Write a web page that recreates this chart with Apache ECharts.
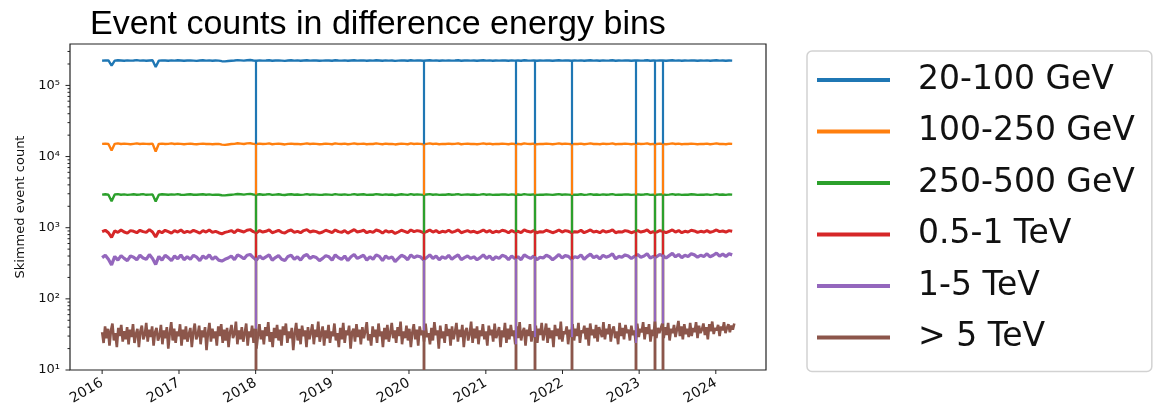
<!DOCTYPE html>
<html>
<head>
<meta charset="utf-8">
<script src="https://cdn.jsdelivr.net/npm/echarts@6/dist/echarts.min.js"></script>
<style>
html,body{margin:0;padding:0;background:#fff;}
#chart{width:1157px;height:408px;}
</style>
</head>
<body>
<div id="chart"></div>
<script>
// ---------------- DATA ----------------
const titleText = 'Event counts in difference energy bins';
const yAxisName = 'Skimmed event count';
const seriesNames = ['20-100 GeV', '100-250 GeV', '250-500 GeV', '0.5-1 TeV', '1-5 TeV', '> 5 TeV'];
const seriesColors = ['#1f77b4', '#ff7f0e', '#2ca02c', '#d62728', '#9467bd', '#8c564b'];

// sampling: first sample date and cadence (days) of the coarse and fine series
const startDate = '2016-01-01';
const coarseStepDays = 15;
const fineStepDays = 7;

// days with (almost) no skimmed events -> drawn as drops to the bottom of the axis
const outageDates = ['2017-12-31', '2020-03-12', '2021-05-22', '2021-08-21', '2022-02-13', '2022-12-16', '2023-03-18', '2023-04-22'];

const xTickYears = [2016, 2017, 2018, 2019, 2020, 2021, 2022, 2023, 2024];
const xMinDate = '2015-08-01';
const xMaxDate = '2024-08-27';
const yMin = 10;
const yMax = 382000;
const yMajorExponents = [1, 2, 3, 4, 5];
const yMinorMantissas = [2, 3, 4, 5, 6, 7, 8, 9];

const counts20to100GeV = [
222000,225000,224000,190000,223000,226000,224000,222000,225000,223000,
224000,227000,223000,225000,222000,224000,226000,181000,223000,225000,
224000,222000,225000,223000,226000,224000,222000,224000,225000,223000,
221000,224000,226000,223000,225000,222000,224000,223000,219000,218000,
220000,222000,224000,227000,225000,223000,226000,228000,224000,222000,
225000,223000,224000,226000,222000,224000,225000,223000,221000,224000,
226000,223000,225000,222000,224000,226000,223000,225000,224000,222000,
223000,225000,224000,222000,226000,224000,223000,225000,222000,224000,
226000,223000,224000,225000,222000,224000,223000,226000,224000,222000,
225000,223000,224000,221000,223000,225000,224000,222000,226000,223000,
225000,224000,222000,224000,226000,223000,225000,222000,224000,223000,
225000,223000,224000,226000,222000,224000,225000,223000,224000,222000,
224000,226000,223000,225000,222000,224000,223000,225000,224000,222000,
225000,223000,224000,222000,226000,224000,223000,225000,222000,224000,
223000,225000,224000,222000,224000,226000,223000,225000,224000,222000,
224000,223000,225000,222000,224000,226000,223000,224000,222000,225000,
223000,224000,226000,222000,224000,223000,225000,224000,222000,224000,
225000,223000,224000,226000,222000,224000,223000,225000,224000,222000,
224000,226000,223000,225000,222000,224000,223000,225000,224000,222000,
224000,223000,225000,222000,224000,226000,223000,224000,222000,224000,223000
];

const counts100to250GeV = [
15100,15200,15000,12200,15100,15300,15000,15200,15100,14900,
15100,15300,15000,15200,15100,15000,15200,11800,15100,15200,
15000,15100,15300,15000,15200,15100,14900,15100,15200,15000,
14900,15100,15200,15000,15100,14900,15000,15100,14700,14600,
14800,15000,15100,15400,15200,15000,15300,15400,15100,15000,
15200,15000,15100,15300,14900,15100,15200,15000,14800,15100,
15200,15000,15100,14900,15100,15300,15000,15200,15100,14900,
15000,15200,15100,14900,15300,15100,15000,15200,14900,15100,
15300,15000,15100,15200,14900,15100,15000,15300,15100,14900,
15200,15000,15100,14800,15000,15200,15100,14900,15300,15000,
15200,15100,14900,15100,15300,15000,15200,14900,15100,15000,
15200,15000,15100,15300,14900,15100,15200,15000,15100,14900,
15100,15300,15000,15200,14900,15100,15000,15200,15100,14900,
15200,15000,15100,14900,15300,15100,15000,15200,14900,15100,
15000,15200,15100,14900,15100,15300,15000,15200,15100,14900,
15100,15000,15200,14900,15100,15300,15000,15100,14900,15200,
15000,15100,15300,14900,15100,15000,15200,15100,14900,15100,
15200,15000,15100,15300,14900,15100,15000,15200,15100,14900,
15100,15300,15000,15200,14900,15100,15000,15200,15100,14900,
15100,15000,15200,14900,15100,15300,15000,15100,14900,15200,15100
];

const counts250to500GeV = [
2920,2950,2900,2350,2930,2960,2910,2940,2890,2920,
2950,2910,2930,2960,2900,2920,2940,2330,2910,2950,
2930,2900,2940,2920,2960,2910,2890,2930,2950,2910,
2900,2930,2950,2910,2940,2890,2920,2900,2860,2850,
2880,2910,2940,2980,2950,2920,2960,2990,2930,2910,
2950,2910,2930,2960,2890,2920,2950,2910,2880,2930,
2950,2900,2930,2890,2920,2960,2910,2940,2920,2890,
2910,2940,2920,2890,2960,2920,2900,2940,2890,2920,
2960,2910,2930,2950,2890,2920,2910,2960,2930,2890,
2940,2910,2930,2870,2910,2950,2920,2890,2960,2910,
2940,2920,2890,2930,2960,2910,2940,2890,2920,2910,
2950,2910,2930,2960,2890,2920,2940,2910,2930,2890,
2920,2960,2910,2940,2890,2920,2910,2940,2930,2890,
2940,2910,2930,2890,2960,2920,2910,2940,2890,2920,
2910,2940,2920,2890,2930,2960,2910,2940,2920,2890,
2920,2910,2950,2890,2920,2960,2910,2930,2890,2940,
2910,2930,2960,2890,2920,2910,2940,2930,2890,2920,
2940,2910,2930,2960,2890,2920,2910,2940,2930,2890,
2920,2960,2910,2940,2890,2920,2910,2950,2930,2890,
2920,2910,2940,2890,2920,2960,2910,2930,2890,2940,2920
];

const counts05to1TeV = [
880,920,850,730,900,860,930,870,840,910,
890,850,920,880,860,940,870,740,900,850,
920,880,840,910,870,930,850,890,860,920,
880,840,910,870,930,860,890,850,820,860,
880,910,850,930,900,870,920,940,880,850,
910,870,890,930,850,880,920,860,840,900,
930,860,890,850,910,940,870,900,880,840,
870,920,890,850,930,880,860,910,840,890,
940,870,890,920,850,890,860,930,900,840,
910,870,890,830,870,920,890,850,930,880,
910,890,850,880,930,870,910,850,890,870,
920,860,890,930,850,880,910,870,890,850,
880,930,870,910,850,890,870,920,900,850,
910,870,890,850,930,890,870,910,850,880,
870,920,890,850,880,930,870,910,890,850,
880,870,920,850,890,930,870,890,850,910,
870,890,930,850,880,870,910,890,850,880,
910,870,890,930,850,880,870,910,890,850,
890,930,870,910,850,890,870,920,900,860,
890,870,910,860,890,930,880,900,870,910,890
];

const counts1to5TeV = [
380,410,360,300,395,350,405,370,345,400,
385,355,410,375,360,420,370,305,395,350,
410,380,345,400,365,415,355,390,360,410,
385,345,400,370,415,360,390,350,340,360,
375,400,355,415,395,365,410,420,380,350,
400,365,390,415,350,380,405,360,345,395,
410,360,390,350,400,420,370,395,380,345,
370,405,390,350,415,380,360,400,345,390,
420,370,390,410,350,390,360,415,395,345,
400,370,390,335,370,410,390,355,415,380,
400,390,355,380,415,370,400,355,390,370,
410,360,390,415,355,380,400,370,390,355,
380,415,370,400,355,390,370,410,395,355,
400,370,390,355,415,390,370,400,355,385,
375,410,390,355,385,420,375,405,395,360,
390,380,415,360,395,425,380,400,365,410,
385,400,430,365,395,385,415,400,370,395,
420,385,400,430,375,395,390,420,405,375,
405,435,390,420,380,410,395,430,415,385,
410,395,430,390,410,440,400,425,395,430,415
];

const countsAbove5TeV = [
34,24,41,28,38,22,36,45,26,33,21,39,30,43,25,35,27,40,23,37,
29,44,24,32,38,21,35,42,27,31,46,25,37,29,41,22,34,39,26,30,
43,23,36,28,40,20,33,47,26,38,24,35,30,44,22,37,27,41,25,32,
39,21,34,45,27,31,42,23,36,29,40,19,33,46,25,38,28,35,22,41,
30,44,24,37,26,39,21,34,43,28,32,48,23,36,27,40,25,33,45,22,
35,29,42,24,38,20,31,44,27,36,23,40,30,47,25,34,21,39,28,43,
26,37,22,41,31,45,24,35,28,39,19,33,46,26,38,23,42,30,36,21,
40,27,34,44,23,37,29,48,25,32,41,22,36,28,43,24,35,30,45,26,
33,21,39,27,46,24,36,31,42,20,34,38,25,44,29,37,23,40,28,35,
47,26,32,22,41,29,37,24,45,30,35,21,39,27,43,25,33,46,28,36,
24,40,30,48,23,35,28,42,26,38,21,34,44,27,37,22,41,31,36,25,
45,29,33,23,39,26,47,31,36,20,42,28,35,24,44,30,38,22,41,27,
34,46,25,37,29,43,21,35,39,26,32,48,24,38,28,41,23,36,30,44,
27,35,22,42,31,37,25,45,28,33,40,21,36,29,46,24,38,27,43,30,
36,23,41,28,47,26,34,39,22,37,30,44,25,35,29,42,24,38,31,46,
26,33,45,24,39,28,36,21,43,30,38,27,48,25,35,32,41,23,37,29,
44,26,38,30,46,24,36,33,42,27,39,22,45,31,37,28,43,25,40,34,
29,47,27,38,32,44,25,36,41,28,35,23,46,30,39,27,43,33,37,26,
42,31,36,24,45,29,38,34,47,27,40,32,44,25,37,30,48,28,39,33,
35,45,28,40,31,46,26,38,33,43,29,37,49,30,41,27,44,32,38,29,
46,30,39,34,47,28,42,33,37,45,31,40,27,44,35,48,32,39,36,43,
30,41,36,47,33,39,44,34,42,37,45
];

// -------------- BUILD --------------
const DAY = 86400000;
const t0 = Date.parse(startDate + 'T00:00:00Z');
function toPoints(values, stepDays) {
  return values.map((v, i) => [t0 + i * stepDays * DAY, v]);
}
function levelBefore(pts, t) {
  let lvl = pts[0][1];
  for (const p of pts) { if (p[0] <= t) lvl = p[1]; else break; }
  return lvl;
}
const seriesValues = [counts20to100GeV, counts100to250GeV, counts250to500GeV, counts05to1TeV, counts1to5TeV, countsAbove5TeV];
const seriesSteps = [coarseStepDays, coarseStepDays, coarseStepDays, coarseStepDays, coarseStepDays, fineStepDays];
const seriesWidths = [2.4, 2.4, 2.4, 3, 3.2, 2.6];

const supMap = {'0':'\u2070','1':'\u00b9','2':'\u00b2','3':'\u00b3','4':'\u2074','5':'\u2075','6':'\u2076','7':'\u2077','8':'\u2078','9':'\u2079'};

const xMin = Date.parse(xMinDate + 'T00:00:00Z');
const xMax = Date.parse(xMaxDate + 'T00:00:00Z');

// tick marks: [x, y, kind] kind 0 = x tick, 1 = y major, 2 = y minor
const tickData = [];
xTickYears.forEach(y => tickData.push([Date.UTC(y, 0, 1), yMin, 0]));
yMajorExponents.forEach(e => tickData.push([xMin, Math.pow(10, e), 1]));
yMajorExponents.forEach(e => yMinorMantissas.forEach(m => {
  const v = m * Math.pow(10, e);
  if (v < yMax) tickData.push([xMin, v, 2]);
}));

const FONT = 'DejaVu Sans';
const lineSeries = seriesNames.map((name, i) => {
  const pts = toPoints(seriesValues[i], seriesSteps[i]);
  const drops = outageDates.map(d => {
    const t = Date.parse(d + 'T00:00:00Z');
    return [{ coord: [t, levelBefore(pts, t)] }, { coord: [t, yMin] }];
  });
  return {
    name: name,
    type: 'line',
    data: pts,
    showSymbol: false,
    symbol: 'none',
    color: seriesColors[i],
    lineStyle: { width: seriesWidths[i], color: seriesColors[i] },
    clip: true,
    silent: true,
    animation: false,
    markLine: {
      silent: true,
      animation: false,
      symbol: ['none', 'none'],
      label: { show: false },
      emphasis: { disabled: true },
      lineStyle: { color: seriesColors[i], width: 2.2, type: 'solid', opacity: 1 },
      data: drops
    }
  };
});

const tickSeries = {
  type: 'custom',
  silent: true,
  clip: false,
  z: 10,
  data: tickData,
  renderItem: function (params, api) {
    const cs = params.coordSys;
    const kind = api.value(2);
    const p = api.coord([api.value(0), api.value(1)]);
    let shape;
    if (kind === 0) {
      const yb = cs.y + cs.height;
      shape = { x1: p[0], y1: yb, x2: p[0], y2: yb + 4 };
    } else {
      const len = kind === 1 ? 4.5 : 2.5;
      shape = { x1: cs.x - len, y1: p[1], x2: cs.x, y2: p[1] };
    }
    return { type: 'line', shape: shape, style: { stroke: '#222', lineWidth: 1 } };
  }
};

const option = {
  useUTC: true,
  animation: false,
  backgroundColor: '#fff',
  title: {
    text: titleText,
    left: 85,
    top: 3,
    textStyle: { fontFamily: 'Liberation Sans', fontSize: 34, fontWeight: 'normal', color: '#000' }
  },
  legend: {
    orient: 'vertical',
    left: 807,
    top: 51,
    data: seriesNames,
    icon: 'rect',
    itemWidth: 73,
    itemHeight: 4,
    itemGap: 11.5,
    padding: [9, 17, 14, 10],
    borderColor: '#d2d2d2',
    borderWidth: 1.5,
    borderRadius: 5,
    backgroundColor: '#fff',
    selectedMode: false,
    textStyle: { fontFamily: FONT, fontSize: 33, color: '#111', lineHeight: 40, padding: [0, 0, 0, 23] }
  },
  grid: {
    left: 70, right: 391, top: 44, bottom: 38,
    show: true, borderColor: '#222', borderWidth: 1.2, backgroundColor: 'transparent',
    containLabel: false
  },
  xAxis: {
    type: 'time',
    min: xMin,
    max: xMax,
    minInterval: 365 * DAY,
    maxInterval: 366 * DAY,
    axisLine: { show: false },
    axisTick: { show: false },
    splitLine: { show: false },
    axisLabel: {
      rotate: 30,
      margin: 12,
      fontFamily: FONT,
      fontSize: 14,
      color: '#111',
      showMinLabel: true,
      showMaxLabel: true,
      hideOverlap: false,
      formatter: function (value) {
        const d = new Date(value);
        if (d.getUTCMonth() === 0 && d.getUTCDate() === 1 && xTickYears.indexOf(d.getUTCFullYear()) >= 0) {
          return String(d.getUTCFullYear());
        }
        return '';
      }
    }
  },
  yAxis: {
    type: 'log',
    logBase: 10,
    min: yMin,
    max: yMax,
    name: yAxisName,
    nameLocation: 'middle',
    nameGap: 32,
    nameTextStyle: { fontFamily: FONT, fontSize: 13, color: '#111' },
    axisLine: { show: false },
    axisTick: { show: false },
    splitLine: { show: false },
    minorTick: { show: false },
    axisLabel: {
      margin: 10,
      fontFamily: FONT,
      fontSize: 13,
      color: '#111',
      formatter: function (value) {
        const e = Math.log10(value);
        const r = Math.round(e);
        if (Math.abs(e - r) > 1e-6) return '';
        return '10' + String(r).split('').map(c => supMap[c]).join('');
      }
    }
  },
  tooltip: { show: false },
  series: lineSeries.concat([tickSeries])
};

const chart = echarts.init(document.getElementById('chart'), null, { renderer: 'canvas' });
chart.setOption(option);
</script>
</body>
</html>
